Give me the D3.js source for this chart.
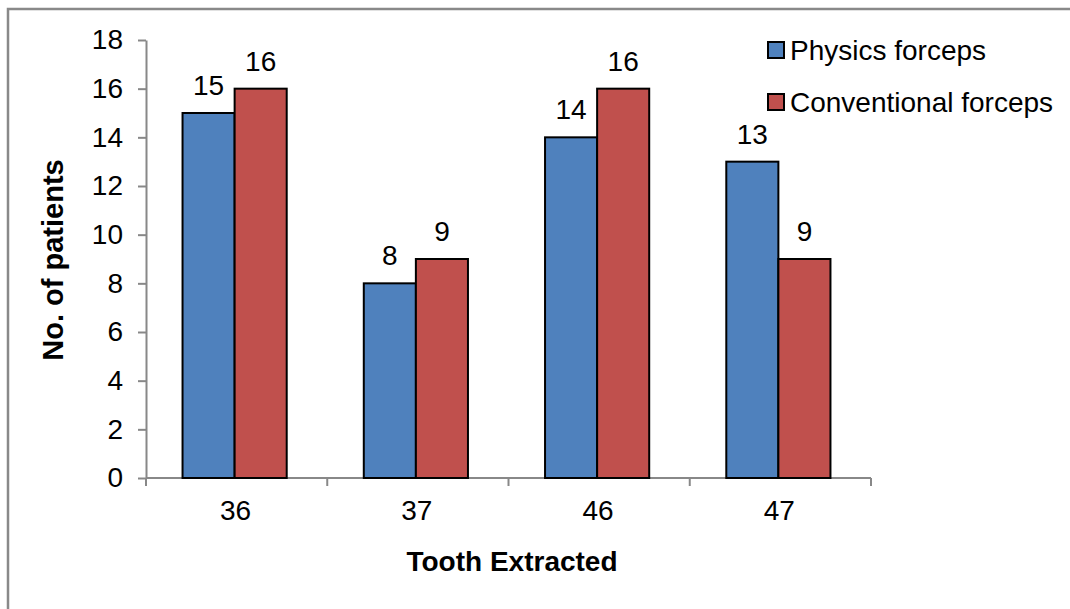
<!DOCTYPE html>
<html>
<head>
<meta charset="utf-8">
<script src="https://cdn.jsdelivr.net/npm/d3@7"></script>
<style>
  html, body { margin: 0; padding: 0; background: #fff; }
  svg { display: block; font-family: "Liberation Sans", Arial, sans-serif; }
</style>
</head>
<body>
<svg id="chart" width="1070" height="609"></svg>
<script>
// Teeth extracted and number of patients per forceps type
const teeth = ["36", "37", "46", "47"];
const seriesNames = ["Physics forceps", "Conventional forceps"];
const physics = [15, 8, 14, 13];
const conventional = [16, 9, 16, 9];
const yTicks = [0, 2, 4, 6, 8, 10, 12, 14, 16, 18];
const colors = ["#4f81bd", "#c0504d"];

const svg = d3.select("#chart");

// Outer frame (top and left edges visible)
svg.append("path")
  .attr("d", "M8,609 L8,9 L1070,9")
  .attr("fill", "none")
  .attr("stroke", "#898989")
  .attr("stroke-width", 2.5);

const plotLeft = 146, plotRight = 871, plotTop = 40, plotBottom = 478;

const x = d3.scaleBand().domain(teeth).range([plotLeft, plotRight]).paddingInner(0).paddingOuter(0);
const y = d3.scaleLinear().domain([0, 18]).range([plotBottom, plotTop]);
const xs = d3.scaleBand().domain(seriesNames).range([0, x.bandwidth()]).paddingInner(0).paddingOuter(0.74);

// Y axis
const yAxis = svg.append("g")
  .attr("transform", `translate(${plotLeft},0)`)
  .call(d3.axisLeft(y).tickValues(yTicks).tickSizeInner(8).tickSizeOuter(0).tickPadding(15));
yAxis.select(".domain").attr("stroke", "#888").attr("stroke-width", 2);
yAxis.selectAll(".tick line").attr("stroke", "#888").attr("stroke-width", 2);
yAxis.selectAll(".tick text").attr("font-size", 28).attr("fill", "#000")
  .attr("font-family", "Liberation Sans, Arial, sans-serif");

// X axis with ticks between categories
const xAxisG = svg.append("g").attr("transform", `translate(0,${plotBottom})`);
xAxisG.append("line")
  .attr("x1", plotLeft).attr("x2", plotRight)
  .attr("y1", 0).attr("y2", 0)
  .attr("stroke", "#888").attr("stroke-width", 2);
const boundaries = teeth.map(t => x(t)).concat([x(teeth[teeth.length - 1]) + x.bandwidth()]);
xAxisG.selectAll("line.tk").data(boundaries).join("line")
  .attr("class", "tk")
  .attr("x1", d => d).attr("x2", d => d)
  .attr("y1", 0).attr("y2", 8)
  .attr("stroke", "#888").attr("stroke-width", 2);
xAxisG.selectAll("text").data(teeth).join("text")
  .attr("x", d => x(d) + x.bandwidth() / 2 - 1)
  .attr("y", 42)
  .attr("text-anchor", "middle")
  .attr("font-size", 28)
  .text(d => d);

// Bars
const data = teeth.map((t, i) => ({ tooth: t, values: [physics[i], conventional[i]] }));
const groups = svg.append("g").selectAll("g").data(data).join("g")
  .attr("transform", d => `translate(${x(d.tooth) - 2},0)`);

groups.selectAll("rect").data(d => d.values.map((v, j) => ({ v, s: seriesNames[j], j })))
  .join("rect")
  .attr("x", d => xs(d.s))
  .attr("y", d => y(d.v))
  .attr("width", xs.bandwidth())
  .attr("height", d => y(0) - y(d.v))
  .attr("fill", d => colors[d.j])
  .attr("stroke", "#000")
  .attr("stroke-width", 2);

groups.selectAll("text").data(d => d.values.map((v, j) => ({ v, s: seriesNames[j] })))
  .join("text")
  .attr("x", d => xs(d.s) + xs.bandwidth() / 2)
  .attr("y", d => y(d.v) - 18)
  .attr("text-anchor", "middle")
  .attr("font-size", 28)
  .text(d => d.v);

// Axis titles
svg.append("text")
  .attr("transform", `translate(63,260) rotate(-90)`)
  .attr("text-anchor", "middle")
  .attr("font-size", 29)
  .attr("font-weight", "bold")
  .text("No. of patients");

svg.append("text")
  .attr("x", 512)
  .attr("y", 571)
  .attr("text-anchor", "middle")
  .attr("font-size", 28)
  .attr("font-weight", "bold")
  .text("Tooth Extracted");

// Legend
const legend = svg.append("g").selectAll("g").data(seriesNames).join("g")
  .attr("transform", (d, i) => `translate(768,${42 + i * 52})`);
legend.append("rect")
  .attr("width", 16).attr("height", 16)
  .attr("fill", (d, i) => colors[i])
  .attr("stroke", "#000").attr("stroke-width", 2);
legend.append("text")
  .attr("x", 22).attr("y", 18)
  .attr("font-size", 28)
  .text(d => d);
</script>
</body>
</html>
